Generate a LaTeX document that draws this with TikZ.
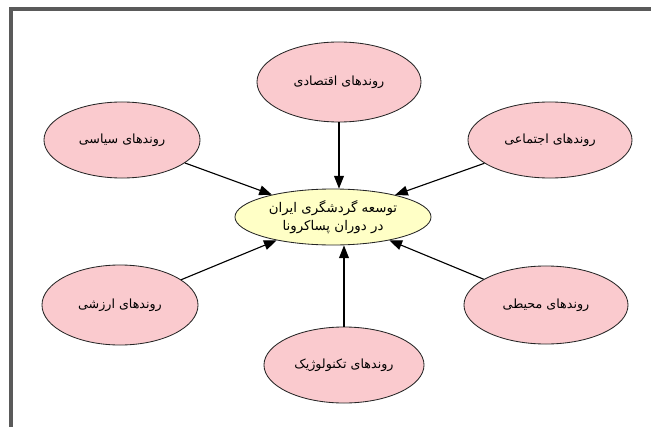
\documentclass[tikz,border=0pt]{standalone}
\usepackage{fontspec}
\newfontfamily\arabicfont[Script=Arabic]{DejaVu Sans}
\TeXXeTstate=1
\usetikzlibrary{shapes.geometric,arrows.meta}
\definecolor{roundpink}{RGB}{250,202,206}
\definecolor{touseyellow}{RGB}{255,255,198}
\definecolor{framegray}{RGB}{90,90,90}
\tikzset{
	ravand/.style={ellipse,draw=black!85,line width=0.6pt,fill=roundpink,inner sep=0pt,
		font=\arabicfont\fontsize{9}{12}\selectfont},
	markaz/.style={ellipse,draw=black!85,line width=0.6pt,fill=touseyellow,inner sep=0pt,
		align=center,font=\arabicfont\fontsize{9.5}{12.5}\selectfont},
	peykan/.style={line width=0.8pt,-{Triangle[length=9pt,width=7pt]}}
}
\begin{document}
\begin{tikzpicture}[x=0.025cm,y=-0.025cm]
		\useasboundingbox (0,0) rectangle (651,427);
		% frame
		\draw[framegray,line width=2.8pt] (11,427) -- (11,9) -- (651,9);
		%
		\node (touse)   at (333,217)  [markaz,minimum width=4.9cm,minimum height=1.4cm] {\beginR توسعه گردشگری ایران\endR\\\beginR در دوران پساکرونا\endR};
		%
		\node (eghtesadi)   at (339,82)  [ravand,minimum width=4.1cm,minimum height=2.0cm] {\beginR روندهای اقتصادی\endR};
		\node (siasi)   at (122,140)  [ravand,minimum width=3.9cm,minimum height=1.9cm] {\beginR روندهای سیاسی\endR};
		\node (ejtemai)   at (550,140)  [ravand,minimum width=4.1cm,minimum height=1.9cm] {\beginR روندهای اجتماعی\endR};
		%
		\node (arzeshi)   at (120,305)  [ravand,minimum width=3.9cm,minimum height=2.0cm] {\beginR روندهای ارزشی\endR};
		\node (mohiti)   at (546,305)  [ravand,minimum width=4.1cm,minimum height=1.95cm] {\beginR روندهای محیطی\endR};
		\node (tech)   at (344,365)  [ravand,minimum width=4.0cm,minimum height=1.9cm] {\beginR روندهای تکنولوژیک\endR};
		%
		\draw[peykan] (eghtesadi.south) -- (eghtesadi.south |- touse.north);
		\draw[peykan] (siasi) -- (touse);
		\draw[peykan] (ejtemai) -- (touse);
		\draw[peykan] (arzeshi) -- (touse);
		\draw[peykan] (mohiti) -- (touse);
		\draw[peykan] (tech.north) -- (tech.north |- touse.south);
	\end{tikzpicture}
\end{document}
